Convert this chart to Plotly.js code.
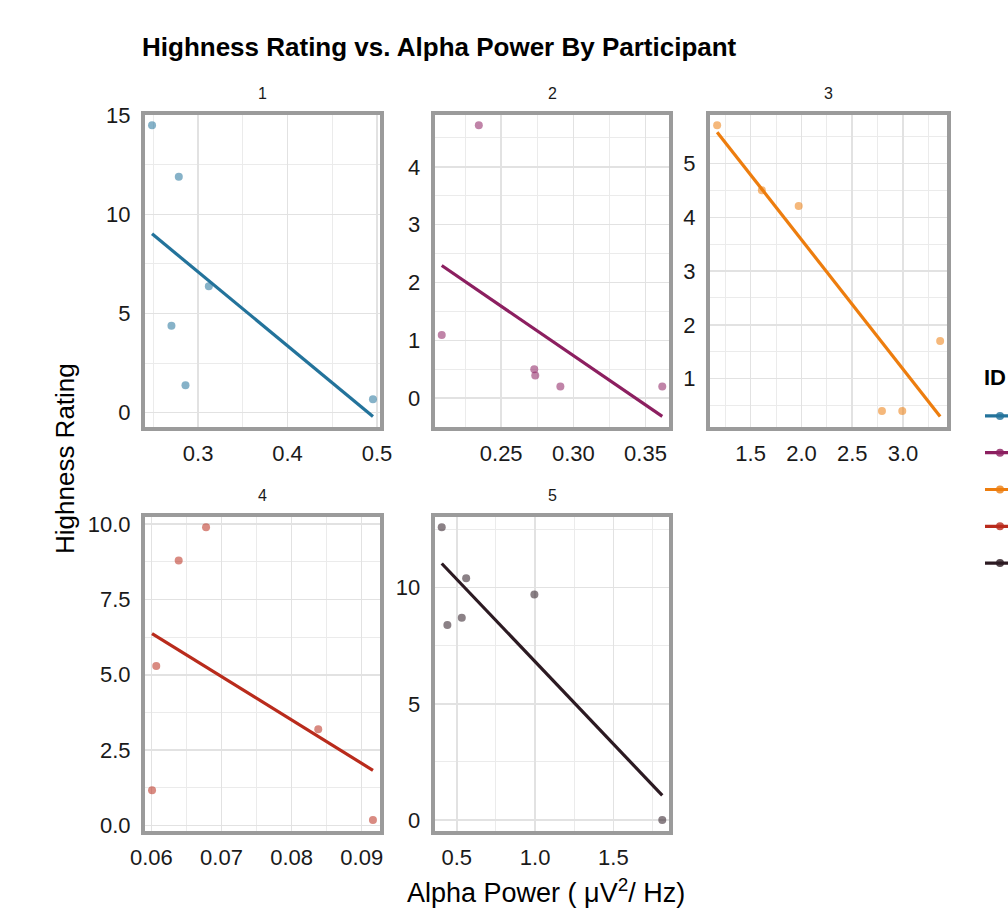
<!DOCTYPE html>
<html>
<head>
<meta charset="utf-8">
<script src="https://cdn.plot.ly/plotly-3.0.1.min.js"></script>
<style>html,body{margin:0;padding:0;background:#fff;}#chart{width:1008px;height:908px;}</style>
</head>
<body>
<div id="chart"></div>
<script>
// ---------------- data ----------------
const participantIds = ["1", "2", "3", "4", "5"];

const alphaP1 = [0.2485, 0.2784, 0.3120, 0.2702, 0.2859, 0.4955];
const highP1  = [14.5, 11.90, 6.38, 4.38, 1.38, 0.67];

const alphaP2 = [0.2088, 0.2345, 0.2729, 0.2736, 0.2910, 0.3616];
const highP2  = [1.09, 4.72, 0.50, 0.39, 0.20, 0.20];

const alphaP3 = [1.17, 1.61, 1.973, 2.793, 2.993, 3.366];
const highP3  = [5.71, 4.50, 4.21, 0.40, 0.40, 1.70];

const alphaP4 = [0.0601, 0.0607, 0.0639, 0.0678, 0.0838, 0.0916];
const highP4  = [1.17, 5.29, 8.79, 9.89, 3.19, 0.18];

const alphaP5 = [0.404, 0.560, 0.440, 0.532, 0.9955, 1.812];
const highP5  = [12.59, 10.40, 8.39, 8.70, 9.70, 0.00];

// tick settings per panel
const xTickStep   = [0.1, 0.05, 0.5, 0.01, 0.5];
const xTickFormat = [".1f", ".2f", ".1f", ".2f", ".1f"];
const yTickStep   = [5, 1, 1, 2.5, 5];
const yTickFormat = ["d", "d", "d", ".1f", "d"];

const chartTitle = "Highness Rating vs. Alpha Power By Participant";
const xTitle = "Alpha Power ( \u03bcV<sup>2</sup>/ Hz)";
const yTitle = "Highness Rating";
const legendTitle = "ID";

// ---------------- styling / layout ----------------
const colors = ["#23739b", "#8c1f60", "#ed7d0e", "#b92b1c", "#2c1a22"];
const W = 1008, H = 908, BW = 4;
// outer pixel boxes of each facet panel [x0, x1, yTop, yBottom]
const boxes = [
  [141, 384, 110.7, 431],
  [430.7, 673.3, 110.7, 431],
  [706, 951.3, 110.7, 431],
  [141, 384, 512.7, 834.7],
  [430.7, 673.3, 512.7, 834.7]
];
const FONT = "Liberation Sans, Arial, Helvetica, sans-serif";

const xs = [alphaP1, alphaP2, alphaP3, alphaP4, alphaP5];
const ys = [highP1, highP2, highP3, highP4, highP5];

function olsFit(x, y) {
  const n = x.length;
  const mx = x.reduce((a, b) => a + b, 0) / n;
  const my = y.reduce((a, b) => a + b, 0) / n;
  let sxy = 0, sxx = 0;
  for (let i = 0; i < n; i++) { sxy += (x[i] - mx) * (y[i] - my); sxx += (x[i] - mx) ** 2; }
  const b = sxy / sxx, a = my - b * mx;
  const x0 = Math.min(...x), x1 = Math.max(...x);
  return { x: [x0, x1], y: [a + b * x0, a + b * x1] };
}

function innerRange(vals, pxLen) {
  let lo = Math.min(...vals), hi = Math.max(...vals);
  const s = hi - lo;
  lo -= 0.05 * s; hi += 0.05 * s;
  const per = (hi - lo) / pxLen;
  return [lo + BW * per, hi - BW * per];
}

const data = [];
const layout = {
  width: W, height: H,
  margin: { l: 0, r: 0, t: 0, b: 0, autoexpand: false },
  paper_bgcolor: "#fff", plot_bgcolor: "#fff",
  font: { family: FONT, color: "#1a1a1a" },
  showlegend: true,
  title: {
    text: "<b>" + chartTitle + "</b>",
    font: { family: FONT, size: 26, color: "#000" },
    xref: "paper", x: 142 / W, xanchor: "left",
    yref: "container", y: 1 - 47 / H, yanchor: "middle"
  },
  legend: {
    xref: "container", x: 980 / W, xanchor: "left",
    yref: "container", y: 1 - 490 / H, yanchor: "middle",
    font: { size: 26, color: "#1a1a1a" },
    bgcolor: "rgba(0,0,0,0)"
  },
  annotations: [],
  hovermode: false
};

for (let i = 0; i < 5; i++) {
  const fit = olsFit(xs[i], ys[i]);
  const ax = i === 0 ? "" : String(i + 1);
  const b = boxes[i];
  data.push({
    type: "scatter", mode: "markers", x: xs[i], y: ys[i],
    xaxis: "x" + ax, yaxis: "y" + ax, showlegend: false,
    marker: { color: colors[i], size: 8, opacity: 0.55, line: { width: 0 } }
  });
  data.push({
    type: "scatter", mode: "lines", x: fit.x, y: fit.y,
    xaxis: "x" + ax, yaxis: "y" + ax, showlegend: false,
    line: { color: colors[i], width: 3.2 }
  });
  // legend key (line + point)
  data.push({
    type: "scatter", mode: "lines+markers", x: [null], y: [null],
    xaxis: "x" + ax, yaxis: "y" + ax, name: participantIds[i],
    line: { color: colors[i], width: 3.2 },
    marker: { color: colors[i], size: 8, opacity: 0.8 }
  });

  const xr = innerRange(xs[i].concat(fit.x), b[1] - b[0]);
  const yr = innerRange(ys[i].concat(fit.y), b[3] - b[2]);
  const common = {
    showline: true, mirror: true, linecolor: "#9b9b9b", linewidth: BW,
    showgrid: true, gridcolor: "#e2e2e2", gridwidth: 1.5,
    zeroline: false, ticks: "", ticklabelstandoff: 6,
    tickfont: { family: FONT, size: 22, color: "#1a1a1a" },
    fixedrange: true
  };
  layout["xaxis" + ax] = Object.assign({}, common, {
    domain: [(b[0] + BW) / W, (b[1] - BW) / W],
    anchor: "y" + ax, range: xr,
    tickmode: "linear", tick0: 0, dtick: xTickStep[i], tickformat: xTickFormat[i],
    ticklabelstandoff: 4,
    minor: { tickmode: "linear", tick0: 0, dtick: xTickStep[i] / 2, showgrid: true, gridcolor: "#ebebeb", gridwidth: 1 }
  });
  layout["yaxis" + ax] = Object.assign({}, common, {
    domain: [1 - (b[3] - BW) / H, 1 - (b[2] + BW) / H],
    anchor: "x" + ax, range: yr,
    tickmode: "linear", tick0: 0, dtick: yTickStep[i], tickformat: yTickFormat[i],
    minor: { tickmode: "linear", tick0: 0, dtick: yTickStep[i] / 2, showgrid: true, gridcolor: "#ebebeb", gridwidth: 1 }
  });
  // facet strip label
  layout.annotations.push({
    text: participantIds[i], showarrow: false,
    xref: "paper", yref: "paper",
    x: ((b[0] + b[1]) / 2) / W, y: 1 - b[2] / H,
    xanchor: "center", yanchor: "bottom", yshift: 7,
    font: { family: FONT, size: 16, color: "#1a1a1a" }
  });
}

// legend title
layout.annotations.push({
  text: "<b>" + legendTitle + "</b>", showarrow: false,
  xref: "paper", yref: "paper", x: 982 / W, y: 1 - 377 / H,
  xanchor: "left", yanchor: "middle",
  font: { family: FONT, size: 22, color: "#000" }
});
// shared axis titles
layout.annotations.push({
  text: yTitle, showarrow: false, textangle: -90,
  xref: "paper", yref: "paper", x: 65 / W, y: 1 - 459 / H,
  xanchor: "center", yanchor: "middle",
  font: { family: FONT, size: 26, color: "#000" }
});
layout.annotations.push({
  text: xTitle, showarrow: false,
  xref: "paper", yref: "paper", x: 546 / W, y: 1 - 891 / H,
  xanchor: "center", yanchor: "middle",
  font: { family: FONT, size: 27, color: "#000" }
});

Plotly.newPlot("chart", data, layout, { staticPlot: true, displayModeBar: false });
</script>
</body>
</html>
